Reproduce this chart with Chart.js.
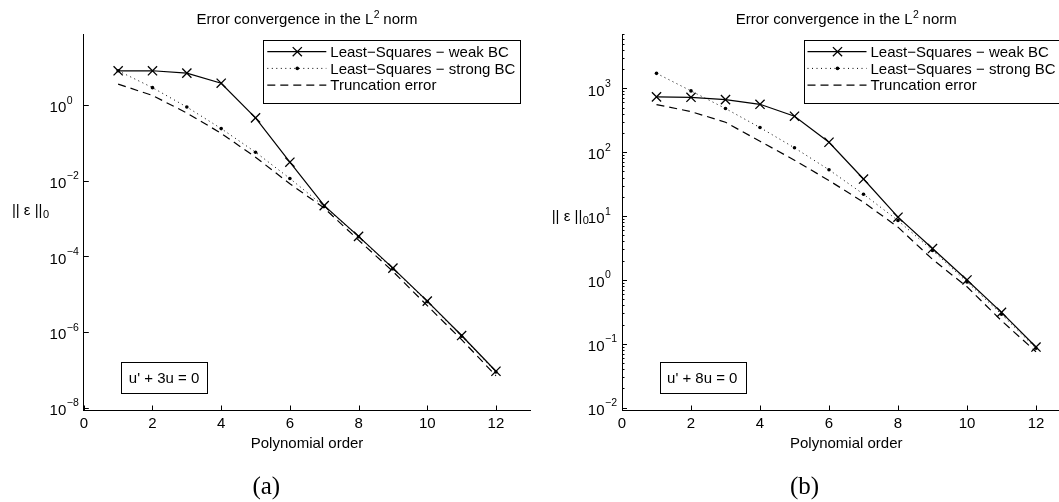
<!DOCTYPE html>
<html>
<head>
<meta charset="utf-8">
<script src="https://cdn.jsdelivr.net/npm/chart.js@4.4.1/dist/chart.umd.min.js"></script>
<style>
  html, body { margin: 0; padding: 0; background: #fff; overflow: hidden; width: 1059px; height: 502px; }
  .panel { position: absolute; top: 0; height: 502px; }
  #wrapA { left: 0; width: 545px; }
  #wrapB { left: 545px; width: 560px; }
</style>
</head>
<body>
<div class="panel" id="wrapA"><canvas id="chartA" width="545" height="502"></canvas></div>
<div class="panel" id="wrapB"><canvas id="chartB" width="560" height="502"></canvas></div>
<script>
// ---- data -------------------------------------------------------------
const polyOrder = [1, 2, 3, 4, 5, 6, 7, 8, 9, 10, 11, 12];
const seriesNames = [
  'Least\u2212Squares \u2212 weak BC',
  'Least\u2212Squares \u2212 strong BC',
  'Truncation error'
];

// panel (a): u' + 3u = 0
const weakA   = [8.1, 8.1, 7.0, 3.8, 0.46, 0.031, 2.2e-3, 3.4e-4, 4.9e-5, 6.6e-6, 8.1e-7, 9.2e-8];
const strongA = [8.1, 2.9, 0.89, 0.24, 0.057, 0.0115, 2.1e-3, 3.3e-4, 4.7e-5, 6.4e-6, 7.8e-7, 8.8e-8];
const truncA  = [3.6, 1.8, 0.62, 0.18, 0.042, 8.3e-3, 1.9e-3, 2.7e-4, 4.0e-5, 5.0e-6, 6.3e-7, 7.0e-8];

// panel (b): u' + 8u = 0
const weakB   = [735, 723, 666, 562, 366, 143, 38, 9.6, 3.1, 1.0, 0.31, 0.089];
const strongB = [1715, 910, 482, 243, 117, 53, 22, 8.5, 2.9, 0.93, 0.29, 0.085];
const truncB  = [556, 432, 294, 148, 75, 36, 16.5, 6.7, 2.1, 0.78, 0.23, 0.075];

const xTickValues = [0, 2, 4, 6, 8, 10, 12];
const xRange = [0, 13];
const yTickExpA = [-8, -6, -4, -2, 0];
const yTickExpB = [-2, -1, 0, 1, 2, 3];
const yRangeA = [8.7e-9, 76];
const yRangeB = [0.0092, 7080];

const titleText = ['Error convergence in the L', '2', ' norm'];
const xTitle = 'Polynomial order';
const yTitle = ['|| \u03b5 ||', '0'];
const equationA = "u' + 3u = 0";
const equationB = "u' + 8u = 0";
const captionA = '(a)';
const captionB = '(b)';

// ---- helpers ----------------------------------------------------------
const SANS = '"Liberation Sans", Arial, Helvetica, sans-serif';
const FS = 15;
Chart.defaults.font.family = SANS;
Chart.defaults.color = '#000';

function pairs(xs, ys) { return xs.map((x, i) => ({ x: x, y: ys[i] })); }

function expLabel(e) { return e < 0 ? '\u2212' + Math.abs(e) : String(e); }

function minorValues(range) {
  const out = [];
  for (let k = Math.floor(Math.log10(range[0])); k <= Math.ceil(Math.log10(range[1])); k++) {
    for (let m = 2; m <= 9; m++) {
      const v = m * Math.pow(10, k);
      if (v >= range[0] && v <= range[1]) out.push(v);
    }
  }
  return out;
}

function drawMarker(ctx, ds, x, y) {
  if (ds.pointStyle === 'crossRot' && ds.pointRadius > 0) {
    const r = ds.pointRadius * Math.SQRT1_2;
    ctx.strokeStyle = ds.pointBorderColor;
    ctx.lineWidth = ds.pointBorderWidth;
    ctx.beginPath();
    ctx.moveTo(x - r, y - r); ctx.lineTo(x + r, y + r);
    ctx.moveTo(x - r, y + r); ctx.lineTo(x + r, y - r);
    ctx.stroke();
  } else if (ds.pointStyle === 'circle' && ds.pointRadius > 0) {
    ctx.fillStyle = ds.pointBackgroundColor;
    ctx.beginPath();
    ctx.arc(x, y, ds.pointRadius, 0, Math.PI * 2);
    ctx.fill();
  }
}

// axis ticks (inward), log tick labels, title, y label, legend, note, caption
const decorPlugin = {
  id: 'decor',
  afterDraw(chart, args, o) {
    const ctx = chart.ctx;
    const ca = chart.chartArea;
    const xs = chart.scales.x, ys = chart.scales.y;
    ctx.save();

    // inward tick marks
    ctx.strokeStyle = '#000';
    ctx.lineWidth = 1;
    ctx.beginPath();
    xs.ticks.forEach(t => {
      const px = Math.round(xs.getPixelForValue(t.value)) + 0.5;
      ctx.moveTo(px, ca.bottom); ctx.lineTo(px, ca.bottom - 4.5);
    });
    ys.ticks.forEach(t => {
      const py = Math.round(ys.getPixelForValue(t.value)) + 0.5;
      ctx.moveTo(ca.left, py); ctx.lineTo(ca.left + 5, py);
    });
    o.minorTicks.forEach(v => {
      const py = Math.round(ys.getPixelForValue(v)) + 0.5;
      ctx.moveTo(ca.left, py); ctx.lineTo(ca.left + 2.5, py);
    });
    ctx.stroke();

    // y tick labels: 10 with raised exponent
    ys.ticks.forEach(t => {
      const py = ys.getPixelForValue(t.value);
      const e = Math.round(Math.log10(t.value));
      const bx = ca.left - 17.5;
      ctx.fillStyle = '#000';
      ctx.textBaseline = 'alphabetic';
      ctx.font = FS + 'px ' + SANS;
      ctx.textAlign = 'right';
      ctx.fillText('10', bx, py + 7.3);
      ctx.font = '10.5px ' + SANS;
      ctx.textAlign = 'left';
      ctx.fillText(expLabel(e), bx + 0.5, py - 1.5);
    });

    // title with superscript
    ctx.textAlign = 'left';
    ctx.font = FS + 'px ' + SANS;
    const w1 = ctx.measureText(titleText[0]).width;
    const w3 = ctx.measureText(titleText[2]).width;
    ctx.font = '10.5px ' + SANS;
    const w2 = ctx.measureText(titleText[1]).width;
    const tx = (ca.left + ca.right) / 2 - (w1 + w2 + w3) / 2;
    const tb = 23.5;
    ctx.font = FS + 'px ' + SANS;
    ctx.fillText(titleText[0], tx, tb);
    ctx.font = '10.5px ' + SANS;
    ctx.fillText(titleText[1], tx + w1 + 0.5, tb - 6);
    ctx.font = FS + 'px ' + SANS;
    ctx.fillText(titleText[2], tx + w1 + w2, tb);

    // y axis label with subscript
    const lx = ca.left - o.yLabelDx;
    ctx.font = FS + 'px ' + SANS;
    ctx.fillText(yTitle[0], lx, o.yLabelBase);
    const lw = ctx.measureText(yTitle[0]).width;
    ctx.font = '11px ' + SANS;
    ctx.fillText(yTitle[1], lx + lw + 0.5, o.yLabelBase + 3);

    // legend
    const lgW = 256.7, lgH = 63.3;
    const lgL = ca.right - 10.3 - lgW, lgT = ca.top + 6;
    ctx.fillStyle = '#fff';
    ctx.fillRect(lgL, lgT, lgW, lgH);
    ctx.strokeStyle = '#000';
    ctx.lineWidth = 1;
    ctx.strokeRect(Math.round(lgL) + 0.5, Math.round(lgT) + 0.5, Math.round(lgW), Math.round(lgH));
    chart.data.datasets.forEach((ds, i) => {
      const cy = lgT + 11.7 + i * 16.7;
      ctx.save();
      ctx.strokeStyle = ds.borderColor;
      ctx.lineWidth = ds.borderWidth;
      ctx.setLineDash(ds.borderDash || []);
      ctx.beginPath();
      ctx.moveTo(lgL + 4, cy); ctx.lineTo(lgL + 63, cy);
      ctx.stroke();
      ctx.setLineDash([]);
      drawMarker(ctx, ds, lgL + 34, cy);
      ctx.restore();
      ctx.fillStyle = '#000';
      ctx.font = FS + 'px ' + SANS;
      ctx.textAlign = 'left';
      ctx.fillText(ds.label, lgL + 67, cy + 5.3);
    });

    // equation note
    const bxL = ca.left + 37.5, bxT = 362, bxW = 85.5, bxH = 31;
    ctx.strokeStyle = '#000';
    ctx.strokeRect(Math.round(bxL) + 0.5, bxT + 0.5, Math.round(bxW), bxH);
    ctx.fillStyle = '#000';
    ctx.font = FS + 'px ' + SANS;
    ctx.textAlign = 'center';
    ctx.fillText(o.equation, bxL + bxW / 2, bxT + 21);

    // sub-figure caption
    ctx.font = '25px "Liberation Serif", "Times New Roman", serif';
    ctx.fillText(o.caption, ca.left + 182.5, 494);

    ctx.restore();
  }
};

function makeChart(id, weak, strong, trunc, yRange, yExps, geo) {
  const yTickValues = yExps.map(e => Math.pow(10, e));
  return new Chart(document.getElementById(id), {
    type: 'line',
    data: {
      datasets: [
        {
          label: seriesNames[0],
          data: pairs(polyOrder, weak),
          borderColor: '#000', borderWidth: 1.2,
          pointStyle: 'crossRot', pointRadius: 6.5,
          pointBorderColor: '#000', pointBorderWidth: 1.3,
          pointBackgroundColor: '#000',
          tension: 0, clip: false
        },
        {
          label: seriesNames[1],
          data: pairs(polyOrder, strong),
          borderColor: '#000', borderWidth: 1,
          borderDash: [1, 3.5],
          pointStyle: 'circle', pointRadius: 1.8,
          pointBorderWidth: 0, pointBackgroundColor: '#000', pointBorderColor: '#000',
          tension: 0, clip: false
        },
        {
          label: seriesNames[2],
          data: pairs(polyOrder, trunc),
          borderColor: '#000', borderWidth: 1.2,
          borderDash: [8, 5],
          pointStyle: 'circle', pointRadius: 0,
          tension: 0, clip: false
        }
      ]
    },
    options: {
      responsive: false,
      animation: false,
      devicePixelRatio: 1,
      events: [],
      layout: { padding: { left: 0, right: geo.padRight, top: 34, bottom: 0 } },
      plugins: {
        legend: { display: false },
        title: { display: false },
        tooltip: { enabled: false },
        decor: {
          minorTicks: geo.minor ? minorValues(yRange) : [],
          yLabelDx: geo.yLabelDx,
          yLabelBase: geo.yLabelBase,
          equation: geo.equation,
          caption: geo.caption
        }
      },
      scales: {
        x: {
          type: 'linear',
          min: xRange[0], max: xRange[1],
          bounds: 'data',
          afterBuildTicks: s => { s.ticks = xTickValues.map(v => ({ value: v })); },
          afterFit: s => { s.height = 92; },
          grid: { display: false, drawTicks: false },
          border: { display: true, color: '#000', width: 1 },
          ticks: { autoSkip: false, maxRotation: 0, padding: 5, font: { size: FS }, color: '#000' },
          title: {
            display: true, text: xTitle, color: '#000',
            font: { size: FS }, padding: { top: 0, bottom: 49.5 }
          }
        },
        y: {
          type: 'logarithmic',
          min: yRange[0], max: yRange[1],
          bounds: 'data',
          afterBuildTicks: s => { s.ticks = yTickValues.map(v => ({ value: v })); },
          afterFit: s => { s.width = geo.yWidth; },
          grid: { display: false, drawTicks: false },
          border: { display: true, color: '#000', width: 1 },
          ticks: { display: false }
        }
      }
    },
    plugins: [decorPlugin]
  });
}

makeChart('chartA', weakA, strongA, truncA, yRangeA, yTickExpA, {
  yWidth: 83.8, padRight: 14.7, minor: false,
  yLabelDx: 71.9, yLabelBase: 215, equation: equationA, caption: captionA
});
makeChart('chartB', weakB, strongB, truncB, yRangeB, yTickExpB, {
  yWidth: 77, padRight: 34.5, minor: true,
  yLabelDx: 70.3, yLabelBase: 221, equation: equationB, caption: captionB
});
</script>
</body>
</html>
